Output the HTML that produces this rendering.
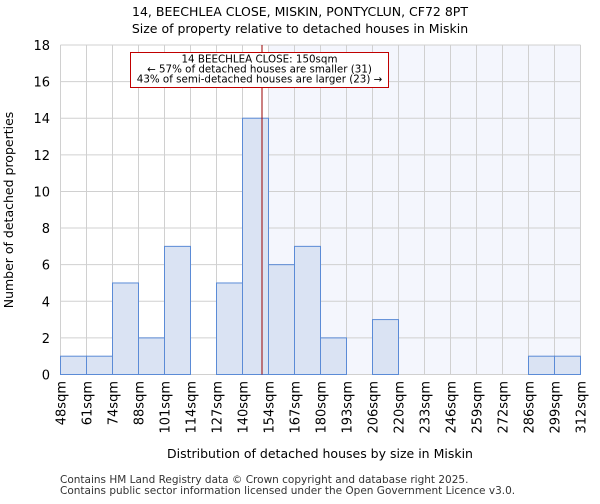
<!DOCTYPE html>
<html><head><meta charset="utf-8"><style>
body{margin:0;background:#fff;font-family:"DejaVu Sans","Liberation Sans",sans-serif}
svg text{font-family:"DejaVu Sans","Liberation Sans",sans-serif}
</style></head><body>
<svg id="c" width="600" height="500">
<text x="300" y="16" text-anchor="middle" font-size="12.5">14, BEECHLEA CLOSE, MISKIN, PONTYCLUN, CF72 8PT</text>
<text x="300" y="33" text-anchor="middle" font-size="12.5">Size of property relative to detached houses in Miskin</text>
<g id="plot"></g>
<text x="320" y="458" text-anchor="middle" font-size="12.5">Distribution of detached houses by size in Miskin</text>
<text transform="translate(13,210) rotate(-90)" text-anchor="middle" font-size="12.5">Number of detached properties</text>
<text x="60" y="483" font-size="10.5" fill="#333">Contains HM Land Registry data © Crown copyright and database right 2025.</text>
<text x="60" y="494" font-size="10.5" fill="#333">Contains public sector information licensed under the Open Government Licence v3.0.</text>
</svg>
<script>
const labels=["48sqm","61sqm","74sqm","88sqm","101sqm","114sqm","127sqm","140sqm","154sqm","167sqm","180sqm","193sqm","206sqm","220sqm","233sqm","246sqm","259sqm","272sqm","286sqm","299sqm","312sqm"];
const counts=[1,1,5,2,7,0,5,14,6,7,2,0,3,0,0,0,0,0,1,1];
const yTicks=[0,2,4,6,8,10,12,14,16,18];
const marker=150;
const markerBin=7.75;
const NS="http://www.w3.org/2000/svg";
const g=document.getElementById('plot');
const x0=60.5,x1=580.5,y0=374.5,y1=45,ymax=18;
const bw=(x1-x0)/counts.length;
const X=i=>x0+i*bw;
const Y=v=>y0-(v/ymax)*(y0-y1);
function mk(t,a){const e=document.createElementNS(NS,t);for(const k in a)e.setAttribute(k,a[k]);g.appendChild(e);return e;}
let sh=mk('rect',{x:X(Math.ceil(markerBin)),y:y1,width:x1-X(Math.ceil(markerBin)),height:y0-y1,fill:'#f4f6fd'});


for(let i=0;i<=counts.length;i++){const l=mk('line',{x1:X(i),x2:X(i),y1:y1,y2:y0,stroke:'#d0d0d0'});

}
yTicks.forEach(v=>{const l=mk('line',{x1:x0,x2:x1,y1:Y(v),y2:Y(v),stroke:'#d0d0d0'});


const t=mk('text',{x:50,y:Y(v)+5,'text-anchor':'end','font-size':13});t.textContent=v;

});
counts.forEach((c,i)=>{if(c<=0)return;const r=mk('rect',{x:X(i),y:Y(c),width:bw,height:y0-Y(c),fill:'#dae3f3',stroke:'#5b8bd6','stroke-width':1});

});
labels.forEach((s,i)=>{const t=mk('text',{transform:`translate(${X(i)+5},381) rotate(-90)`,'text-anchor':'end','font-size':13});t.textContent=s;

});
const mx=X(markerBin);
const ml=mk('line',{x1:mx,x2:mx,y1:y1,y2:y0,stroke:'#9a0000','stroke-width':1});


const box=mk('rect',{x:130.5,y:52.5,width:258,height:35,fill:'#fff',stroke:'#c00000'});


["14 BEECHLEA CLOSE: "+marker+"sqm","← 57% of detached houses are smaller (31)","43% of semi-detached houses are larger (23) →"].forEach((s,k)=>{const t=mk('text',{x:259.5,y:62.5+k*10,'text-anchor':'middle','font-size':10.3});t.textContent=s;

});
</script>
</body></html>
